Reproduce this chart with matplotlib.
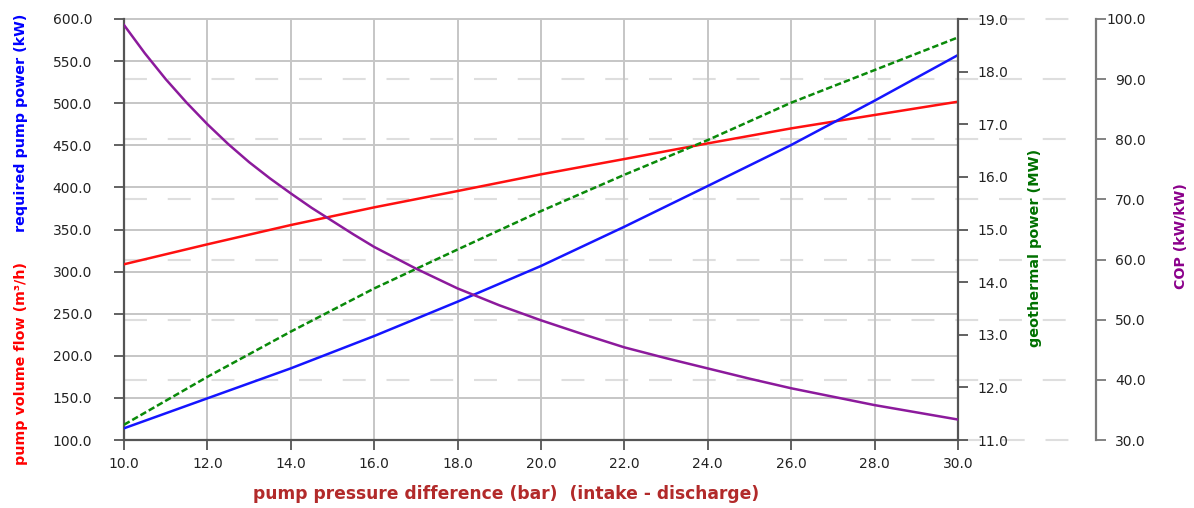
"""Pump pressure difference study: flow, pump power, geothermal power and COP."""

import matplotlib

matplotlib.use("Agg")

import matplotlib.pyplot as plt
import matplotlib.transforms as mtransforms
from matplotlib.ticker import FormatStrFormatter, MultipleLocator

# values
pressure = [10, 12, 14, 16, 18, 20, 22, 24, 26, 28, 30]
volume_flow = [308.7, 332.4, 355.3, 376.3, 395.7, 415.5, 433.7, 452.3, 470.1, 486.0, 501.8]
pump_power = [113.9, 149.5, 185.1, 223.5, 264.3, 306.7, 353.3, 401.7, 450.4, 503.0, 557.2]
geothermal_power = [11.29, 12.20, 13.06, 13.88, 14.62, 15.35, 16.04, 16.70, 17.41, 18.03, 18.65]

pressure_cop = [10, 10.5, 11, 11.5, 12, 12.5, 13, 13.5, 14, 14.5, 15, 15.5, 16,
                17, 18, 19, 20, 21, 22, 23, 24, 25, 26, 27, 28, 29, 30]
cop = [99.0, 94.3, 90.0, 86.1, 82.5, 79.2, 76.2, 73.5, 71.0, 68.6, 66.4, 64.2, 62.1,
       58.5, 55.2, 52.4, 49.9, 47.6, 45.4, 43.6, 41.9, 40.2, 38.6, 37.2, 35.8, 34.6, 33.4]

RED = "#ff1010"
BLUE = "#1515ff"
GREEN = "#0a8a0a"
PURPLE = "#8c1a9c"
SPINE = "#555555"
TICK_TEXT = "#222222"
GRID = "#c6c6c6"
DASH_GRID = "#dedede"

W, H = 1194, 508


def fx(px):
    return px / W


def fy(px):
    return 1 - px / H


def main():
    plt.rcParams.update({"font.family": "DejaVu Sans", "font.size": 10})

    fig = plt.figure(figsize=(W / 100, H / 100), dpi=100)
    fig.patch.set_facecolor("white")
    ax = fig.add_axes([fx(124), fy(440), (958 - 124) / W, (440 - 19) / H])
    ax2 = ax.twinx()
    ax3 = ax.twinx()

    # main axis: volume flow and pump power
    ax.plot(pressure, volume_flow, color=RED, lw=1.8, zorder=3)
    ax.plot(pressure, pump_power, color=BLUE, lw=1.8, zorder=3)
    ax.set_xlim(10, 30)
    ax.set_ylim(100, 600)
    ax.xaxis.set_major_locator(MultipleLocator(2))
    ax.yaxis.set_major_locator(MultipleLocator(50))
    ax.xaxis.set_major_formatter(FormatStrFormatter("%.1f"))
    ax.yaxis.set_major_formatter(FormatStrFormatter("%.1f"))
    ax.grid(True, color=GRID, lw=1.4, zorder=0)
    ax.set_axisbelow(True)
    for tick in ax.yaxis.get_major_ticks():
        tick.gridline.set_clip_on(False)
    ax.tick_params(axis="y", direction="out", length=7, width=1.3, color=SPINE,
                   labelcolor=TICK_TEXT, pad=16)
    ax.tick_params(axis="x", direction="out", length=7, width=1.3, color=SPINE,
                   labelcolor=TICK_TEXT, pad=5)
    for name in ("top", "right"):
        ax.spines[name].set_visible(False)
    for name in ("left", "bottom"):
        ax.spines[name].set_color(SPINE)
        ax.spines[name].set_linewidth(1.6)

    # geothermal power axis
    ax2.plot(pressure, geothermal_power, color=GREEN, lw=1.8, dashes=(2.6, 1.2), zorder=3)
    ax2.set_ylim(11, 19)
    ax2.yaxis.set_major_locator(MultipleLocator(1))
    ax2.yaxis.set_major_formatter(FormatStrFormatter("%.1f"))
    ax2.tick_params(axis="y", direction="out", length=7, width=1.3, color=SPINE,
                    labelcolor=TICK_TEXT, pad=7)
    for name in ("top", "left", "bottom"):
        ax2.spines[name].set_visible(False)
    ax2.spines["right"].set_color(SPINE)
    ax2.spines["right"].set_linewidth(1.6)

    # COP axis, offset to the right
    ax3.plot(pressure_cop, cop, color=PURPLE, lw=1.8, zorder=3)
    ax3.set_ylim(30, 100)
    ax3.yaxis.set_major_locator(MultipleLocator(10))
    ax3.yaxis.set_major_formatter(FormatStrFormatter("%.1f"))
    ax3.spines["right"].set_position(("axes", (1096 - 124) / (958 - 124)))
    for name in ("top", "left", "bottom"):
        ax3.spines[name].set_visible(False)
    ax3.spines["right"].set_color("#7a7a7a")
    ax3.spines["right"].set_linewidth(1.6)
    ax3.tick_params(axis="y", direction="out", length=7, width=1.3, color="#7a7a7a",
                    labelcolor=TICK_TEXT, pad=29)
    for tick in ax3.yaxis.get_major_ticks():
        tick.label2.set_horizontalalignment("right")

    # dashed grid of the COP axis, running past the geothermal spine
    blend = mtransforms.blended_transform_factory(ax.transAxes, ax3.transData)
    x_end = (1084 - 124) / (958 - 124)
    for value in range(30, 101, 10):
        x_start = 1.0 if value in (30, 100) else 0.0
        ax.plot([x_start, x_end], [value, value], transform=blend, color=DASH_GRID,
                lw=1.5, dashes=(11, 10), dash_capstyle="butt",
                clip_on=False, zorder=0.2)

    # axis titles
    fig.text(fx(21), fy(465), "pump volume flow (m³/h)", color="#ff0000",
             rotation=90, ha="center", va="bottom", fontsize=10.3, fontweight="bold")
    fig.text(fx(21), fy(232), "required pump power (kW)", color="#0000ff",
             rotation=90, ha="center", va="bottom", fontsize=10.3, fontweight="bold")
    fig.text(fx(1035), fy(248), "geothermal power (MW)", color="#007000",
             rotation=90, ha="center", va="center", fontsize=10.4, fontweight="bold")
    fig.text(fx(1181), fy(236), "COP (kW/kW)", color="#8b008b",
             rotation=90, ha="center", va="center", fontsize=10.2, fontweight="bold")
    fig.text(fx(506), fy(494), "pump pressure difference (bar)  (intake - discharge)",
             color="#b22a2a", ha="center", va="center", fontsize=12.3, fontweight="bold")

    fig.savefig("out.png", dpi=100, facecolor="white")
    plt.close(fig)


if __name__ == "__main__":
    main()
